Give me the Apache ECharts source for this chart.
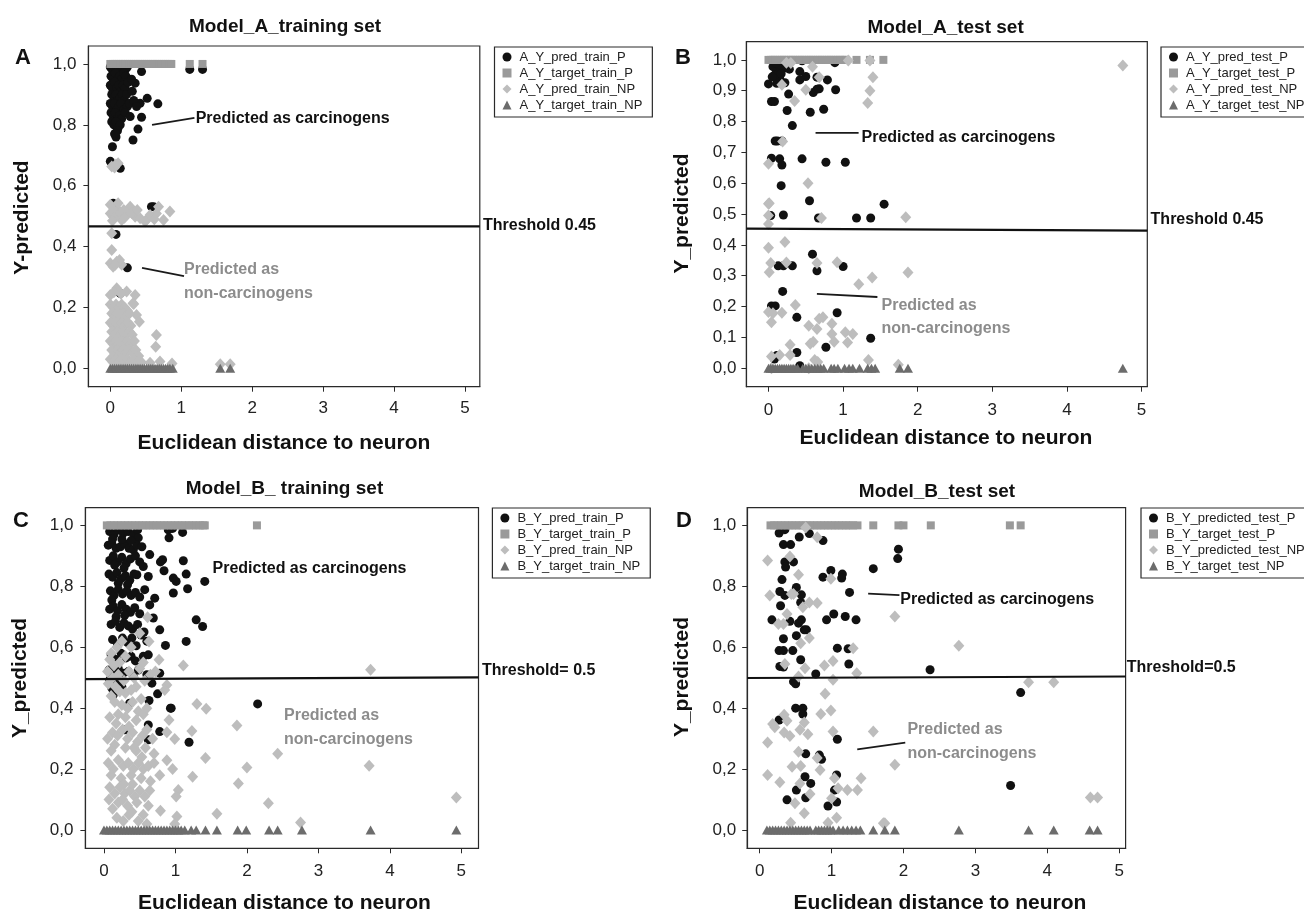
<!DOCTYPE html>
<html>
<head>
<meta charset="utf-8">
<script src="https://cdn.jsdelivr.net/npm/echarts@6/dist/echarts.min.js"></script>
<style>html,body{margin:0;padding:0;background:#fff;}#c{width:1304px;height:913px;}</style>
</head>
<body>
<div id="c"></div>
<script>
// ---------- tick labels ----------
const xTicks = [0, 1, 2, 3, 4, 5];
const yTicksStep02 = [0, 0.2, 0.4, 0.6, 0.8, 1.0];
const yTicksStep01 = [0, 0.1, 0.2, 0.3, 0.4, 0.5, 0.6, 0.7, 0.8, 0.9, 1.0];

// ---------- series names ----------
const namesA = ['A_Y_pred_train_P', 'A_Y_target_train_P', 'A_Y_pred_train_NP', 'A_Y_target_train_NP'];
const namesB = ['A_Y_pred_test_P', 'A_Y_target_test_P', 'A_Y_pred_test_NP', 'A_Y_target_test_NP'];
const namesC = ['B_Y_pred_train_P', 'B_Y_target_train_P', 'B_Y_pred_train_NP', 'B_Y_target_train_NP'];
const namesD = ['B_Y_predicted_test_P', 'B_Y_target_test_P', 'B_Y_predicted_test_NP', 'B_Y_target_test_NP'];

// ---------- Panel A: Model_A training set ----------
const aPredTrainP = [
[0.00,0.99],[0.03,0.98],[0.06,0.99],[0.09,0.98],[0.12,0.99],[0.15,0.98],[0.18,0.99],[0.21,0.98],[0.24,0.99],
[0.01,0.96],[0.04,0.95],[0.07,0.97],[0.10,0.95],[0.13,0.96],[0.16,0.95],[0.19,0.97],[0.22,0.96],
[0.00,0.93],[0.03,0.92],[0.06,0.94],[0.09,0.92],[0.12,0.93],[0.15,0.91],[0.18,0.93],[0.21,0.92],[0.25,0.94],
[0.02,0.90],[0.05,0.89],[0.08,0.90],[0.11,0.88],[0.14,0.89],[0.17,0.90],[0.20,0.88],[0.23,0.90],
[0.00,0.87],[0.03,0.86],[0.06,0.87],[0.09,0.85],[0.12,0.86],[0.15,0.87],[0.19,0.85],[0.24,0.86],
[0.01,0.84],[0.04,0.83],[0.07,0.84],[0.10,0.82],[0.13,0.83],[0.16,0.82],[0.21,0.84],
[0.02,0.81],[0.05,0.80],[0.08,0.81],[0.11,0.79],[0.14,0.80],[0.06,0.77],[0.10,0.78],[0.08,0.76],
[0.44,0.975],[0.35,0.937],[0.30,0.95],[0.52,0.887],[0.67,0.869],[0.42,0.871],[0.44,0.825],[0.39,0.786],
[0.32,0.75],[0.03,0.728],[0.28,0.827],[0.27,0.87],[0.31,0.91],[0.33,0.88],[0.37,0.86],[0.07,0.772],
[0.14,0.657],[0.00,0.68],[0.04,0.542],[0.58,0.531],[0.61,0.531],[0.08,0.44],[0.24,0.33],[0.14,0.246],
[1.12,0.982],[1.30,0.982]
];
const aTargetTrainPx = [0,0.03,0.06,0.09,0.12,0.15,0.18,0.21,0.24,0.27,0.30,0.33,0.36,0.39,0.42,0.45,0.48,0.51,0.54,0.57,0.60,0.63,0.66,0.69,0.72,0.75,0.78,0.81,0.84,0.86,1.12,1.30];
const aPredTrainNP = [
[0.02,0.663],[0.11,0.674],[0.06,0.66],[0.08,0.67],
[0.00,0.537],[0.11,0.52],[0.23,0.504],[0.35,0.498],[0.51,0.487],[0.65,0.509],[0.68,0.531],[0.75,0.487],[0.84,0.515],
[0.56,0.504],[0.16,0.487],[0.04,0.498],[0.00,0.509],[0.28,0.531],[0.42,0.493],[0.49,0.482],[0.11,0.542],[0.05,0.52],
[0.08,0.50],[0.14,0.51],[0.19,0.52],[0.03,0.485],[0.20,0.495],[0.30,0.51],[0.38,0.52],[0.62,0.49],
[0.02,0.444],[0.02,0.389],
[0.00,0.345],[0.09,0.35],[0.16,0.34],[0.04,0.334],[0.13,0.356],[0.07,0.34],
[0.00,0.241],[0.09,0.263],[0.23,0.252],[0.35,0.241],[0.32,0.214],[0.05,0.25],[0.15,0.245],
[0.37,0.175],[0.41,0.153],[0.65,0.109],[0.64,0.071],[0.33,0.211],
[0.00,0.21],[0.04,0.20],[0.08,0.21],[0.12,0.20],[0.16,0.21],[0.20,0.20],[0.24,0.19],
[0.02,0.18],[0.06,0.17],[0.10,0.18],[0.14,0.17],[0.18,0.18],[0.22,0.17],[0.27,0.18],
[0.00,0.15],[0.04,0.14],[0.08,0.15],[0.12,0.14],[0.16,0.15],[0.20,0.14],[0.25,0.15],[0.29,0.14],
[0.02,0.12],[0.06,0.11],[0.10,0.12],[0.14,0.11],[0.18,0.12],[0.22,0.11],[0.27,0.12],[0.31,0.11],
[0.00,0.09],[0.04,0.08],[0.08,0.09],[0.12,0.08],[0.16,0.09],[0.20,0.08],[0.24,0.09],[0.29,0.08],[0.34,0.09],
[0.02,0.06],[0.06,0.05],[0.10,0.06],[0.14,0.05],[0.18,0.06],[0.22,0.05],[0.26,0.06],[0.31,0.05],[0.36,0.06],[0.40,0.04],
[0.00,0.03],[0.04,0.02],[0.08,0.03],[0.12,0.02],[0.16,0.03],[0.20,0.02],[0.24,0.03],[0.28,0.02],[0.33,0.03],[0.38,0.02],[0.44,0.02],
[0.56,0.018],[0.70,0.022],[0.87,0.016],[1.55,0.013],[1.69,0.013]
];
const aTargetTrainNPx = [0,0.03,0.06,0.09,0.12,0.15,0.18,0.21,0.24,0.27,0.30,0.33,0.36,0.39,0.42,0.45,0.48,0.51,0.54,0.57,0.60,0.63,0.66,0.69,0.72,0.75,0.78,0.81,0.84,0.88,1.55,1.69];

// ---------- Panel B: Model_A test set ----------
const aPredTestP = [
[0.00,0.922],[0.11,0.962],[0.15,0.94],[0.06,0.978],[0.20,0.973],[0.11,0.924],[0.22,0.926],[0.08,0.95],[0.13,0.985],
[0.17,0.955],[0.10,0.99],[0.05,0.945],[0.45,0.997],
[0.27,0.889],[0.04,0.865],[0.08,0.865],[0.25,0.836],[0.32,0.787],[0.09,0.737],[0.12,0.737],[0.18,0.737],
[0.04,0.681],[0.15,0.679],[0.18,0.659],[0.17,0.592],[0.45,0.679],[0.77,0.668],[1.03,0.668],[0.56,0.83],[0.74,0.84],
[0.42,0.962],[0.50,0.946],[0.42,0.935],[0.60,0.894],[0.65,0.905],[0.68,0.906],[0.79,0.935],[0.90,0.903],[0.65,0.944],
[0.89,0.991],[0.28,0.97],[0.55,0.543],[1.55,0.532],
[0.20,0.497],[0.03,0.495],[0.67,0.487],[1.18,0.487],[1.37,0.487],[0.59,0.37],[0.65,0.316],[0.13,0.332],[0.20,0.332],
[0.32,0.332],[1.00,0.33],[0.19,0.249],[0.04,0.202],[0.09,0.202],[0.38,0.165],[0.92,0.18],[1.37,0.097],[0.77,0.068],
[0.38,0.051],[0.11,0.041],[0.42,0.008],[0.08,0.03]
];
const aTargetTestPx = [0,0.03,0.06,0.09,0.12,0.15,0.18,0.21,0.24,0.27,0.30,0.33,0.36,0.39,0.42,0.45,0.48,0.51,0.54,0.57,0.60,0.63,0.66,0.69,0.72,0.75,0.78,0.81,0.84,0.87,0.90,0.93,0.96,0.99,1.02,1.04,1.18,1.36,1.54];
const aPredTestNP = [
[0.24,0.991],[0.30,0.99],[0.59,0.978],[1.07,0.998],[1.36,0.998],[1.40,0.944],[1.36,0.90],[1.33,0.86],
[0.18,0.919],[0.35,0.867],[0.50,0.903],[0.68,0.944],[0.19,0.735],[0.00,0.663],[0.53,0.60],[0.01,0.535],
[4.75,0.982],
[0.00,0.533],[0.00,0.495],[0.00,0.468],[0.71,0.487],[1.84,0.49],
[0.00,0.391],[0.22,0.409],[0.03,0.341],[0.01,0.311],[0.24,0.343],[0.65,0.341],[0.92,0.344],[1.21,0.272],[1.39,0.294],[1.87,0.31],
[0.00,0.182],[0.06,0.178],[0.18,0.18],[0.04,0.149],[0.36,0.205],[0.54,0.138],[0.65,0.127],[0.68,0.16],[0.73,0.165],
[0.85,0.144],[0.85,0.111],[0.88,0.086],[1.03,0.117],[1.13,0.111],[1.06,0.083],[0.56,0.079],[0.60,0.086],[0.29,0.076],
[0.29,0.043],[0.15,0.043],[0.04,0.038],[1.34,0.027],[1.74,0.011],[0.62,0.027],[0.66,0.02],[0.04,0.0],[0.54,0.0]
];
const aTargetTestNPx = [0,0.03,0.06,0.09,0.12,0.15,0.18,0.21,0.24,0.27,0.30,0.33,0.36,0.39,0.46,0.50,0.54,0.58,0.62,0.66,0.70,0.74,0.84,0.88,0.93,1.02,1.08,1.13,1.22,1.33,1.38,1.43,1.76,1.87,4.75];

// ---------- Panel C: Model_B training set ----------
const bPredTrainP = [
[0.08,0.98],[0.14,0.97],[0.20,0.985],[0.27,0.975],[0.34,0.98],[0.42,0.97],[0.47,0.985],[0.90,0.985],[0.96,0.99],[1.10,0.977],[0.91,0.959],[0.48,0.959],
[0.06,0.935],[0.11,0.94],[0.17,0.925],[0.23,0.93],[0.29,0.94],[0.35,0.925],[0.41,0.92],[0.46,0.935],[0.53,0.93],[0.12,0.955],[0.25,0.955],[0.38,0.95],
[0.08,0.885],[0.13,0.90],[0.19,0.88],[0.25,0.895],[0.31,0.875],[0.37,0.89],[0.44,0.90],[0.50,0.88],[0.64,0.904],[0.82,0.887],[0.79,0.88],[1.11,0.884],[0.55,0.865],[0.15,0.87],[0.28,0.86],
[0.07,0.84],[0.12,0.83],[0.18,0.845],[0.24,0.825],[0.30,0.835],[0.36,0.82],[0.42,0.84],[0.46,0.838],[0.62,0.832],[0.84,0.851],[0.97,0.827],[1.01,0.816],[1.15,0.84],[1.41,0.816],[0.20,0.81],[0.33,0.805],
[0.09,0.785],[0.14,0.77],[0.20,0.79],[0.26,0.775],[0.32,0.785],[0.38,0.77],[0.44,0.78],[0.57,0.789],[0.97,0.778],[1.17,0.792],[0.71,0.761],[0.50,0.765],[0.11,0.755],
[0.08,0.725],[0.13,0.735],[0.19,0.72],[0.25,0.74],[0.31,0.725],[0.37,0.715],[0.43,0.73],[0.64,0.739],[0.69,0.696],[0.17,0.70],[0.29,0.705],[0.50,0.71],
[0.10,0.675],[0.16,0.685],[0.22,0.665],[0.28,0.68],[0.34,0.67],[0.40,0.66],[0.47,0.675],[0.78,0.657],[1.29,0.69],[1.38,0.668],[0.56,0.65],
[0.12,0.625],[0.19,0.61],[0.26,0.63],[0.33,0.615],[0.39,0.63],[0.45,0.605],[0.52,0.64],[0.86,0.606],[1.15,0.619],[0.60,0.62],
[0.10,0.575],[0.17,0.56],[0.24,0.58],[0.31,0.565],[0.38,0.57],[0.44,0.555],[0.55,0.57],[0.62,0.575],
[0.07,0.525],[0.13,0.51],[0.20,0.53],[0.27,0.515],[0.34,0.52],[0.41,0.505],[0.48,0.525],[0.60,0.51],[0.78,0.515],
[0.08,0.493],[0.11,0.466],[0.13,0.444],[0.18,0.48],[0.25,0.47],[0.67,0.482],[0.75,0.447],[0.63,0.425],[0.93,0.40],[0.36,0.416],
[0.62,0.345],[0.78,0.323],[0.62,0.296],[0.29,0.329],[1.19,0.288],[2.15,0.414],[0.94,0.40]
];
const bTargetTrainPx = [0.04,0.09,0.14,0.19,0.24,0.29,0.34,0.39,0.44,0.49,0.54,0.59,0.64,0.69,0.74,0.79,0.84,0.89,0.94,0.99,1.04,1.09,1.14,1.19,1.24,1.29,1.34,1.39,1.41,2.14];
const bPredTrainNP = [
[0.10,0.58],[0.18,0.60],[0.25,0.62],[0.30,0.57],[0.22,0.55],[0.38,0.60],[0.61,0.698],[0.50,0.646],[0.63,0.619],[1.11,0.54],[0.77,0.559],[0.55,0.55],[0.08,0.56],[0.14,0.54],
[0.05,0.52],[0.12,0.50],[0.20,0.51],[0.28,0.49],[0.35,0.52],[0.42,0.50],[0.50,0.53],[0.57,0.49],[0.65,0.51],[0.72,0.52],[0.88,0.476],[0.85,0.46],[0.16,0.47],[0.30,0.45],[0.45,0.47],[0.10,0.44],[0.22,0.455],[0.38,0.46],[0.06,0.48],
[0.15,0.42],[0.25,0.41],[0.33,0.40],[0.40,0.42],[0.48,0.39],[0.20,0.38],[0.30,0.37],[0.45,0.36],[0.55,0.38],[0.08,0.37],[1.30,0.414],[1.43,0.398],[0.60,0.40],[0.91,0.361],
[0.05,0.30],[0.12,0.32],[0.19,0.31],[0.26,0.33],[0.33,0.30],[0.40,0.32],[0.47,0.29],[0.54,0.31],[0.60,0.33],[0.68,0.30],[0.99,0.299],[0.88,0.321],[1.86,0.343],[1.23,0.325],[0.15,0.28],[0.30,0.27],[0.45,0.26],[0.58,0.27],[0.70,0.25],[0.10,0.26],
[0.06,0.22],[0.13,0.20],[0.20,0.23],[0.27,0.21],[0.34,0.22],[0.41,0.20],[0.48,0.22],[0.55,0.20],[0.62,0.21],[0.70,0.22],[0.96,0.20],[0.88,0.229],[1.42,0.236],[2.00,0.205],[0.10,0.18],[0.24,0.17],[0.38,0.18],[0.52,0.17],[0.65,0.16],[0.78,0.18],
[0.08,0.14],[0.15,0.12],[0.22,0.14],[0.29,0.12],[0.36,0.13],[0.43,0.11],[0.50,0.13],[0.57,0.11],[0.64,0.13],[1.24,0.175],[1.88,0.153],[1.04,0.131],[1.01,0.11],[0.20,0.09],[0.33,0.08],[0.46,0.09],[0.12,0.07],[0.39,0.06],
[0.18,0.04],[0.27,0.03],[0.35,0.05],[0.48,0.03],[0.55,0.05],[0.79,0.063],[1.58,0.053],[1.02,0.044],[2.30,0.088],[0.99,0.02],[0.60,0.02],
[0.07,0.10],[0.26,0.10],[0.40,0.15],[0.53,0.24],[0.17,0.35],[0.35,0.34],[0.52,0.43],[0.28,0.15],[0.42,0.27],[0.62,0.08],
[3.73,0.526],[3.71,0.211],[4.93,0.107],[2.75,0.025],[2.43,0.25]
];
const bTargetTrainNPx = [0,0.04,0.08,0.12,0.16,0.20,0.24,0.28,0.32,0.36,0.40,0.44,0.48,0.52,0.56,0.60,0.64,0.68,0.72,0.76,0.80,0.84,0.88,0.92,0.96,1.00,1.04,1.08,1.13,1.22,1.29,1.42,1.58,1.87,1.99,2.31,2.43,2.77,3.73,4.93];

// ---------- Panel D: Model_B test set ----------
const bPredTestP = [
[0.27,0.975],[0.35,0.986],[0.55,0.962],[0.69,0.973],[0.88,0.95],[0.33,0.937],[0.43,0.937],[0.35,0.88],[0.47,0.88],
[0.36,0.863],[0.31,0.822],[0.88,0.83],[0.99,0.852],[1.15,0.84],[1.14,0.827],[1.58,0.858],[1.93,0.922],[1.92,0.891],
[1.25,0.78],[0.28,0.783],[0.35,0.77],[0.51,0.796],[0.58,0.772],[0.57,0.747],[0.29,0.736],[0.17,0.69],[0.42,0.685],
[0.54,0.679],[0.58,0.69],[0.65,0.657],[0.62,0.657],[0.93,0.69],[1.03,0.709],[1.19,0.701],[1.34,0.69],[0.51,0.638],
[0.33,0.628],[0.27,0.589],[0.33,0.589],[0.46,0.589],[0.57,0.559],[1.08,0.597],[1.23,0.595],[1.24,0.545],[0.28,0.537],
[0.78,0.512],[0.33,0.535],[0.47,0.487],[2.37,0.526],[3.63,0.451],[3.49,0.146],
[0.50,0.48],[0.27,0.361],[0.50,0.40],[0.60,0.40],[0.60,0.381],[1.08,0.298],[0.64,0.25],[0.83,0.246],[0.86,0.232],
[0.63,0.175],[0.71,0.153],[1.07,0.181],[0.51,0.131],[1.04,0.131],[0.38,0.099],[0.64,0.106],[0.95,0.079],[1.07,0.092]
];
const bTargetTestPx = [0.15,0.20,0.25,0.30,0.35,0.40,0.45,0.50,0.55,0.60,0.65,0.70,0.75,0.80,0.85,0.90,0.95,1.00,1.05,1.10,1.15,1.20,1.25,1.30,1.36,1.58,1.93,2.00,2.38,3.48,3.63];
const bPredTestNP = [
[0.11,0.885],[0.14,0.77],[0.64,0.993],[0.80,0.961],[0.42,0.898],[0.54,0.838],[0.99,0.825],[0.44,0.775],[0.47,0.775],
[0.69,0.747],[0.80,0.745],[0.60,0.731],[0.38,0.709],[0.26,0.676],[0.33,0.676],[1.88,0.701],[0.57,0.613],[0.69,0.63],
[0.35,0.545],[0.63,0.531],[0.90,0.54],[1.02,0.555],[1.30,0.597],[1.35,0.515],[1.02,0.493],[0.54,0.504],
[2.77,0.605],[3.74,0.485],[4.09,0.485],[4.60,0.107],[4.70,0.107],[1.88,0.214],[1.58,0.323],[1.74,0.022],
[0.91,0.447],[0.99,0.392],[0.85,0.381],[0.11,0.287],[0.18,0.348],[0.21,0.337],[0.34,0.378],[0.38,0.359],[0.34,0.32],
[0.42,0.309],[0.56,0.329],[0.62,0.353],[0.67,0.314],[1.02,0.323],[0.54,0.257],[0.80,0.236],[0.84,0.197],[0.57,0.21],
[0.45,0.208],[0.11,0.181],[0.28,0.157],[0.56,0.153],[1.04,0.17],[1.09,0.137],[1.22,0.131],[1.36,0.131],[1.41,0.17],
[0.70,0.118],[0.49,0.088],[1.00,0.104],[0.62,0.055],[1.07,0.04],[0.43,0.024],[0.95,0.024],[1.72,0.022]
];
const bTargetTestNPx = [0.10,0.14,0.18,0.22,0.26,0.30,0.34,0.38,0.42,0.46,0.50,0.54,0.58,0.62,0.66,0.70,0.78,0.82,0.86,0.90,0.94,0.98,1.02,1.10,1.16,1.22,1.28,1.34,1.40,1.58,1.74,1.88,2.77,3.74,4.09,4.59,4.70];

// ---------- thresholds and callout leader lines (data units) ----------
const thresholdA = [[-0.309, 0.466], [5.209, 0.466]];
const thresholdB = [[-0.296, 0.453], [5.078, 0.446]];
const thresholdC = [[-0.26, 0.495], [5.24, 0.501]];
const thresholdD = [[-0.174, 0.499], [5.09, 0.504]];
const leaderA = [[[0.588, 0.800], [1.186, 0.823]], [[0.447, 0.330], [1.039, 0.303]]];
const leaderB = [[[0.631, 0.763], [1.208, 0.763]], [[0.649, 0.241], [1.460, 0.231]]];
const leaderD = [[[1.509, 0.776], [1.944, 0.771]], [[1.357, 0.265], [2.025, 0.287]]];

// ---------- build chart ----------
const FONT = '"Liberation Sans", Arial, Helvetica, sans-serif';
const C_P = '#111111', C_TP = '#9a9a9a', C_NP = '#bdbdbd', C_TNP = '#6c6c6c';

const panels = [
  {names: namesA, predP: aPredTrainP, targP: aTargetTrainPx, predNP: aPredTrainNP, targNP: aTargetTrainNPx,
   grid: {left: 88.4, top: 46, width: 391.4, height: 340.7}, x: [-0.309, 5.209], y: [-0.0605, 1.059], yTicks: yTicksStep02,
   xMargin: 13, yMargin: 12, thr: thresholdA, leaders: leaderA,
   legend: {left: 494.5, top: 47}},
  {names: namesB, predP: aPredTestP, targP: aTargetTestPx, predNP: aPredTestNP, targNP: aTargetTestNPx,
   grid: {left: 746.4, top: 41.7, width: 400.9, height: 345}, x: [-0.296, 5.078], y: [-0.060, 1.059], yTicks: yTicksStep01,
   xMargin: 15, yMargin: 10, thr: thresholdB, leaders: leaderB,
   legend: {left: 1161, top: 47}},
  {names: namesC, predP: bPredTrainP, targP: bTargetTrainPx, predNP: bPredTrainNP, targNP: bTargetTrainNPx,
   grid: {left: 85.4, top: 507.7, width: 393.1, height: 340.6}, x: [-0.26, 5.24], y: [-0.06, 1.058], yTicks: yTicksStep02,
   xMargin: 15, yMargin: 12, thr: thresholdC, leaders: [],
   legend: {left: 492.4, top: 508}},
  {names: namesD, predP: bPredTestP, targP: bTargetTestPx, predNP: bPredTestNP, targNP: bTargetTestNPx,
   grid: {left: 747.2, top: 507.7, width: 378.4, height: 340.6}, x: [-0.174, 5.09], y: [-0.06, 1.058], yTicks: yTicksStep02,
   xMargin: 15, yMargin: 11, thr: thresholdD, leaders: leaderD,
   legend: {left: 1141, top: 508}}
];

const grids = [], xAxes = [], yAxes = [], series = [], legends = [];
panels.forEach((p, i) => {
  grids.push(Object.assign({show: true, borderColor: '#2a2a2a', borderWidth: 1.2, backgroundColor: 'transparent'}, p.grid));
  xAxes.push({
    gridIndex: i, type: 'value', min: p.x[0], max: p.x[1],
    axisLine: {show: true, onZero: false, lineStyle: {color: '#2a2a2a', width: 1.2}},
    axisTick: {show: true, length: 5, customValues: xTicks, lineStyle: {color: '#2a2a2a'}},
    axisLabel: {customValues: xTicks, fontSize: 17, color: '#222', margin: p.xMargin, fontFamily: FONT},
    splitLine: {show: false}
  });
  yAxes.push({
    gridIndex: i, type: 'value', min: p.y[0], max: p.y[1],
    axisLine: {show: true, onZero: false, lineStyle: {color: '#2a2a2a', width: 1.2}},
    axisTick: {show: true, length: 5, customValues: p.yTicks, lineStyle: {color: '#2a2a2a'}},
    axisLabel: {customValues: p.yTicks, fontSize: 17, color: '#222', margin: p.yMargin, fontFamily: FONT,
      formatter: v => v.toFixed(1).replace('.', ',')},
    splitLine: {show: false}
  });
  const common = {xAxisIndex: i, yAxisIndex: i, type: 'scatter', silent: true, animation: false};
  series.push(Object.assign({}, common, {name: p.names[0], data: p.predP, symbol: 'circle', symbolSize: 9,
    itemStyle: {color: C_P, opacity: 1}}));
  series.push(Object.assign({}, common, {name: p.names[1], data: p.targP.map(x => [x, 1]), symbol: 'rect', symbolSize: 8,
    itemStyle: {color: C_TP, opacity: 1}}));
  series.push(Object.assign({}, common, {name: p.names[2], data: p.predNP, symbol: 'diamond', symbolSize: [11, 12],
    itemStyle: {color: C_NP, opacity: 1}}));
  series.push(Object.assign({}, common, {name: p.names[3], data: p.targNP.map(x => [x, 0]), symbol: 'triangle', symbolSize: [10, 9],
    itemStyle: {color: C_TNP, opacity: 1}}));
  series.push({type: 'line', xAxisIndex: i, yAxisIndex: i, data: p.thr, symbol: 'none', silent: true, animation: false, z: 10,
    lineStyle: {color: '#111', width: 2.2}});
  p.leaders.forEach(seg => {
    series.push({type: 'line', xAxisIndex: i, yAxisIndex: i, data: seg, symbol: 'none', silent: true, animation: false, z: 10,
      lineStyle: {color: '#1a1a1a', width: 1.8}});
  });
  legends.push({
    data: p.names, orient: 'vertical', left: p.legend.left, top: p.legend.top,
    itemWidth: 9, itemHeight: 9, itemGap: 2, padding: [3, 10, 5, 8], selectedMode: false,
    borderColor: '#2a2a2a', borderWidth: 1.2, backgroundColor: '#fff',
    textStyle: {fontSize: 13, lineHeight: 14, color: '#222', fontFamily: FONT, padding: [0, 0, 0, 3]}
  });
});

function t(x, y, text, size, color, align, extra) {
  return Object.assign({type: 'text', x: x, y: y, z: 100, silent: true, style: {
    text: text, fill: color || '#111', font: 'bold ' + size + 'px ' + FONT,
    align: align || 'left', verticalAlign: 'middle', textAlign: align || 'left', textVerticalAlign: 'middle'}}, extra || {});
}
const GRAY = '#8c8c8c';
const graphics = [
  // titles
  t(285, 27, 'Model_A_training set', 19, '#111', 'center'),
  t(945.6, 28, 'Model_A_test set', 19, '#111', 'center'),
  t(284.5, 489, 'Model_B_ training set', 19, '#111', 'center'),
  t(937, 492, 'Model_B_test set', 19, '#111', 'center'),
  // panel letters
  t(23, 58, 'A', 22, '#111', 'center'),
  t(683, 58, 'B', 22, '#111', 'center'),
  t(21, 520.5, 'C', 22, '#111', 'center'),
  t(684, 520.5, 'D', 22, '#111', 'center'),
  // y axis names
  t(22, 217.5, 'Y-predicted', 21, '#111', 'center', {rotation: Math.PI / 2}),
  t(682, 213.5, 'Y_predicted', 21, '#111', 'center', {rotation: Math.PI / 2}),
  t(20, 678, 'Y_predicted', 21, '#111', 'center', {rotation: Math.PI / 2}),
  t(682, 677, 'Y_predicted', 21, '#111', 'center', {rotation: Math.PI / 2}),
  // x axis names
  t(284, 443, 'Euclidean distance to neuron', 21, '#111', 'center'),
  t(946, 438, 'Euclidean distance to neuron', 21, '#111', 'center'),
  t(284.5, 903, 'Euclidean distance to neuron', 21, '#111', 'center'),
  t(940, 903, 'Euclidean distance to neuron', 21, '#111', 'center'),
  // thresholds
  t(483, 226, 'Threshold 0.45', 16, '#111'),
  t(1150.6, 220, 'Threshold 0.45', 16, '#111'),
  t(482, 670.7, 'Threshold= 0.5', 16, '#111'),
  t(1126.8, 667.3, 'Threshold=0.5', 16, '#111'),
  // annotations
  t(195.7, 118.3, 'Predicted as carcinogens', 16, '#111'),
  t(184, 269.3, 'Predicted as', 16, GRAY),
  t(184, 293.3, 'non-carcinogens', 16, GRAY),
  t(861.5, 137.7, 'Predicted as carcinogens', 16, '#111'),
  t(881.5, 305.7, 'Predicted as', 16, GRAY),
  t(881.5, 328.3, 'non-carcinogens', 16, GRAY),
  t(212.5, 568.3, 'Predicted as carcinogens', 16, '#111'),
  t(284, 715.7, 'Predicted as', 16, GRAY),
  t(284, 739.3, 'non-carcinogens', 16, GRAY),
  t(900.3, 599.3, 'Predicted as carcinogens', 16, '#111'),
  t(907.4, 730, 'Predicted as', 16, GRAY),
  t(907.4, 754, 'non-carcinogens', 16, GRAY)
];

const chart = echarts.init(document.getElementById('c'), null, {renderer: 'canvas'});
chart.setOption({
  animation: false,
  backgroundColor: '#fff',
  grid: grids, xAxis: xAxes, yAxis: yAxes, series: series, legend: legends,
  graphic: graphics
});
</script>
</body>
</html>
